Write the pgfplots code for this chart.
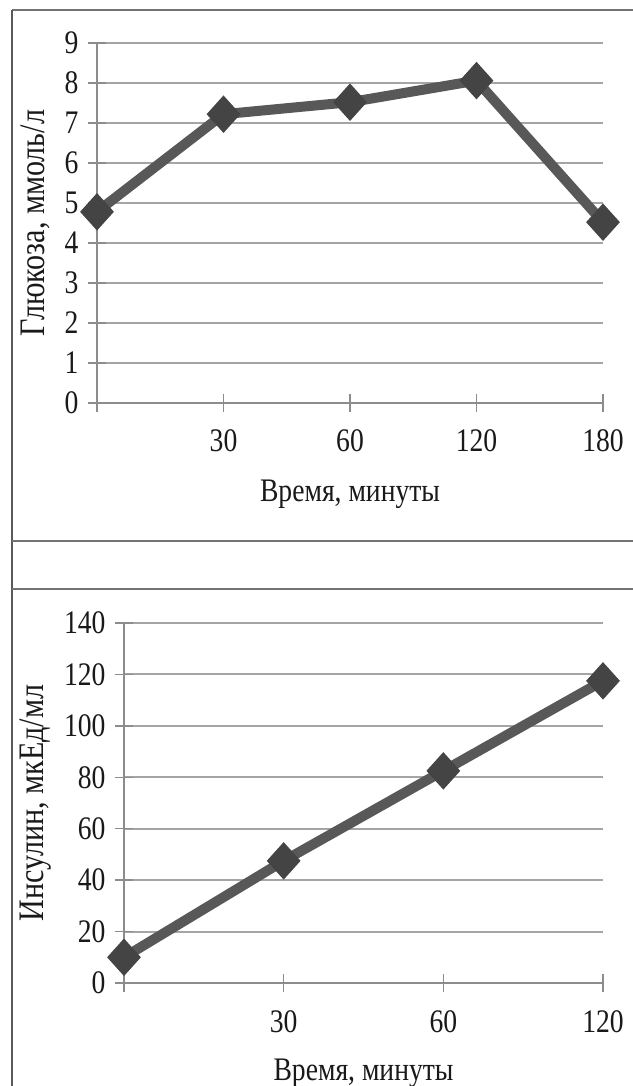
\documentclass[border=0pt]{standalone}
\usepackage{fontspec}
\setmainfont{Liberation Serif}[FakeStretch=0.84]
\usepackage{pgfplots}
\pgfplotsset{compat=1.18}
\newcommand\ff{\fontsize{33}{38}\selectfont}
\newcommand\fy{\fontsize{36}{40}\selectfont}
\definecolor{gridc}{RGB}{165,165,165}
\definecolor{axc}{RGB}{140,140,140}
\definecolor{linec}{RGB}{88,88,88}
\definecolor{markc}{RGB}{68,68,68}
\pgfplotsset{
  panel/.style={
    scale only axis, clip=false,
    axis x line=bottom, axis y line=left,
    axis line style={-, draw=axc, line width=1.5bp},
    ymajorgrids, grid style={draw=gridc, line width=2bp},
    tick align=center, major tick length=18bp,
    tick style={draw=axc, line width=1.5bp},
    /pgf/number format/assume math mode=true,
    ticklabel style={font=\ff, text=black!90},
    label style={font=\ff, text=black!90},
    xticklabel style={anchor=base, yshift=-40bp},
    yticklabel style={anchor=east, xshift=-6bp},
  },
  dataline/.style={color=linec, line width=10bp, mark=diamond*, mark size=18bp,
    mark options={xscale=1.2, fill=markc, draw=markc, line width=1bp}},
}
\begin{document}
\begin{tikzpicture}
\useasboundingbox (0bp,0bp) rectangle (633bp,1086bp);
% panel borders
\draw[line width=2.5bp, color=black!55] (12bp,1076bp) -- (633bp,1076bp);
\draw[line width=2bp, color=black!65] (12bp,0bp) -- (12bp,1076bp);
\draw[line width=2.5bp, color=black!55] (12bp,545bp) -- (633bp,545bp);
\draw[line width=2.5bp, color=black!55] (12bp,497bp) -- (633bp,497bp);

\begin{axis}[panel, at={(97bp,683bp)}, anchor=south west,
  width=506bp, height=360bp,
  xmin=0, xmax=4, ymin=0, ymax=9,
  xtick={0,1,2,3,4}, xticklabels={,30,60,120,180},
  ytick={0,1,...,9},
  xlabel={Время, минуты},
  xlabel style={at={(axis description cs:0.5,-0.275)}, anchor=base},
  ylabel={Глюкоза, ммоль/л},
  ylabel style={font=\fy, at={(axis description cs:-0.122,0.5)}, anchor=center},
]
\addplot[dataline] coordinates {(0,4.78) (1,7.22) (2,7.52) (3,8.06) (4,4.52)};
\end{axis}

\begin{axis}[panel, at={(124bp,103bp)}, anchor=south west,
  width=479bp, height=360bp,
  xmin=0, xmax=3, ymin=0, ymax=140,
  xtick={0,1,2,3}, xticklabels={,30,60,120},
  ytick={0,20,...,140},
  xlabel={Время, минуты},
  xlabel style={at={(axis description cs:0.5,-0.272)}, anchor=base},
  ylabel={Инсулин, мкЕд/мл},
  ylabel style={font=\fy, at={(axis description cs:-0.185,0.5)}, anchor=center},
]
\addplot[dataline] coordinates {(0,10) (1,47.5) (2,82.5) (3,117.5)};
\end{axis}
\end{tikzpicture}
\end{document}
